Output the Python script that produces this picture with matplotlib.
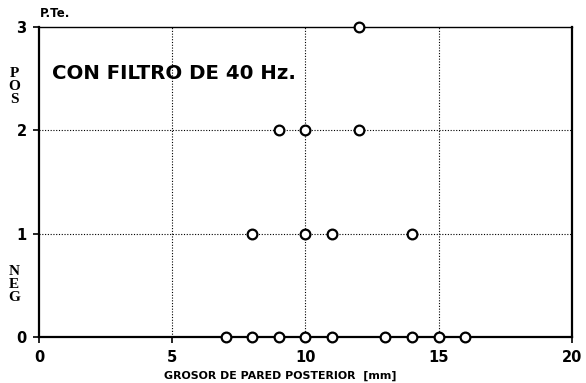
import matplotlib
matplotlib.use("Agg")
import matplotlib.pyplot as plt

# data: wall thickness (mm) vs P.Te. score
grosor = [12, 9, 10, 12, 8, 10, 11, 14, 7, 8, 9, 10, 11, 13, 14, 15, 16]
pte = [3, 2, 2, 2, 1, 1, 1, 1, 0, 0, 0, 0, 0, 0, 0, 0, 0]
x_ticks = [0, 5, 10, 15, 20]
y_ticks = [0, 1, 2, 3]

bold_sans = dict(family="DejaVu Sans", fontweight="bold")
bold_serif = dict(family="Liberation Serif", fontweight="bold")

fig = plt.figure(figsize=(5.86, 3.83), dpi=100, facecolor="white")
ax = fig.add_axes([0.0666, 0.12, 0.9094, 0.8095])

# dotted grid lines (interior only)
for xv in x_ticks[1:-1]:
    ax.axvline(xv, color="black", linestyle=(0, (1, 1.5)), linewidth=0.8, zorder=1)
for yv in y_ticks[1:-1]:
    ax.axhline(yv, color="black", linestyle=(0, (1, 1.5)), linewidth=0.8, zorder=1)

ax.plot(grosor, pte, linestyle="none", marker="o", markersize=7,
        markerfacecolor="white", markeredgecolor="black", markeredgewidth=1.6,
        zorder=4, clip_on=False)

ax.set_xlim(0, 20)
ax.set_ylim(0, 3)
ax.set_xticks(x_ticks)
ax.set_yticks(y_ticks)
ax.tick_params(direction="out", length=4, width=1.2, pad=5)
for lab in ax.get_xticklabels() + ax.get_yticklabels():
    lab.set_fontsize(10.5)
    lab.set_fontweight("bold")
    lab.set_family("DejaVu Sans")

for s in ["left", "bottom", "right"]:
    ax.spines[s].set_linewidth(1.6)
ax.spines["top"].set_linewidth(1.0)

ax.text(0.02, 3.07, "P.Te.", fontsize=8.5, ha="left", va="bottom", **bold_sans)
ax.text(0.5, 2.55, "CON FILTRO DE 40 Hz.", fontsize=14.2, ha="left", va="center", **bold_sans)

fig.text(0.024, 0.773, "P\nO\nS", fontsize=11, ha="center", va="center",
         linespacing=1.0, **bold_serif)
fig.text(0.024, 0.256, "N\nE\nG", fontsize=11, ha="center", va="center",
         linespacing=1.0, **bold_serif)

fig.text(0.479, 0.018, "GROSOR DE PARED POSTERIOR  [mm]", fontsize=7.9,
         ha="center", va="center", **bold_sans)

fig.savefig("out.png", dpi=100)
